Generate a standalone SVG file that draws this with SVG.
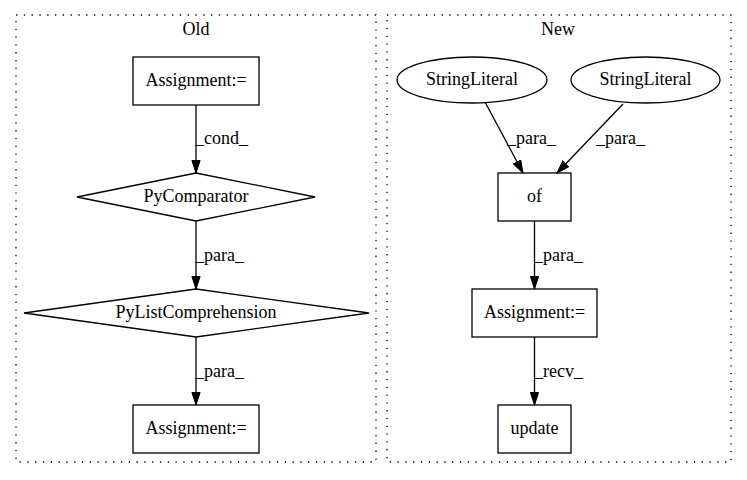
<svg xmlns="http://www.w3.org/2000/svg" width="747" height="480" viewBox="0 0 747 480">
<style>
text{font-family:"Liberation Serif","Times New Roman",serif;font-size:18px;fill:#000}
.c{text-anchor:middle}
.n{fill:none;stroke:#000;stroke-width:1.3}
.cl{fill:none;stroke:#000;stroke-width:1.3;stroke-dasharray:1.3,6.5}
.e{fill:none;stroke:#000;stroke-width:1.3}
</style>
<defs>
<marker id="ah" markerWidth="14" markerHeight="10" refX="13" refY="4.6" orient="auto" markerUnits="userSpaceOnUse">
<path d="M0.5,0.5 L13,4.6 L0.5,8.7 Z" fill="#000" stroke="#000" stroke-width="1"/>
</marker>
</defs>
<rect width="747" height="480" fill="#fff"/>
<g id="cluster_old">
<rect class="cl" x="16" y="15" width="360" height="447"/>
<text class="c" x="196" y="35">Old</text>
</g>
<g id="cluster_new">
<rect class="cl" x="387" y="15" width="344" height="447"/>
<text class="c" x="558" y="35">New</text>
</g>
<g id="old_assign1">
<rect class="n" x="133" y="57" width="126" height="48"/>
<text class="c" x="196" y="86">Assignment:=</text>
</g>
<g id="old_pycomparator">
<polygon class="n" points="196,173 315,197 196,221 77,197"/>
<text class="c" x="196" y="202">PyComparator</text>
</g>
<g id="old_pylistcomp">
<polygon class="n" points="196,289 369,313 196,337 24,313"/>
<text class="c" x="196" y="318">PyListComprehension</text>
</g>
<g id="old_assign2">
<rect class="n" x="133" y="405" width="126" height="48"/>
<text class="c" x="196" y="434">Assignment:=</text>
</g>
<g id="new_str1">
<ellipse class="n" cx="472" cy="80" rx="75" ry="23"/>
<text class="c" x="472" y="85">StringLiteral</text>
</g>
<g id="new_str2">
<ellipse class="n" cx="645.5" cy="80" rx="74.5" ry="23"/>
<text class="c" x="645.5" y="85">StringLiteral</text>
</g>
<g id="new_of">
<rect class="n" x="498" y="173" width="73" height="48"/>
<text class="c" x="534.5" y="202">of</text>
</g>
<g id="new_assign">
<rect class="n" x="472" y="289" width="125" height="48"/>
<text class="c" x="534.5" y="318">Assignment:=</text>
</g>
<g id="new_update">
<rect class="n" x="498" y="405" width="73" height="48"/>
<text class="c" x="534.5" y="434">update</text>
</g>
<g id="connectors">
<line class="e" x1="196" y1="105" x2="196" y2="173" marker-end="url(#ah)"/>
<text x="195" y="144">_cond_</text>
<line class="e" x1="196" y1="221" x2="196" y2="289" marker-end="url(#ah)"/>
<text x="195" y="261">_para_</text>
<line class="e" x1="196" y1="337" x2="196" y2="405" marker-end="url(#ah)"/>
<text x="195" y="377">_para_</text>
<line class="e" x1="485" y1="102" x2="523" y2="173" marker-end="url(#ah)"/>
<text x="507" y="144">_para_</text>
<line class="e" x1="623" y1="104" x2="557" y2="173" marker-end="url(#ah)"/>
<text x="596" y="144">_para_</text>
<line class="e" x1="534.5" y1="221" x2="534.5" y2="289" marker-end="url(#ah)"/>
<text x="534" y="261">_para_</text>
<line class="e" x1="534.5" y1="337" x2="534.5" y2="405" marker-end="url(#ah)"/>
<text x="534" y="377">_recv_</text>
</g>
</svg>
